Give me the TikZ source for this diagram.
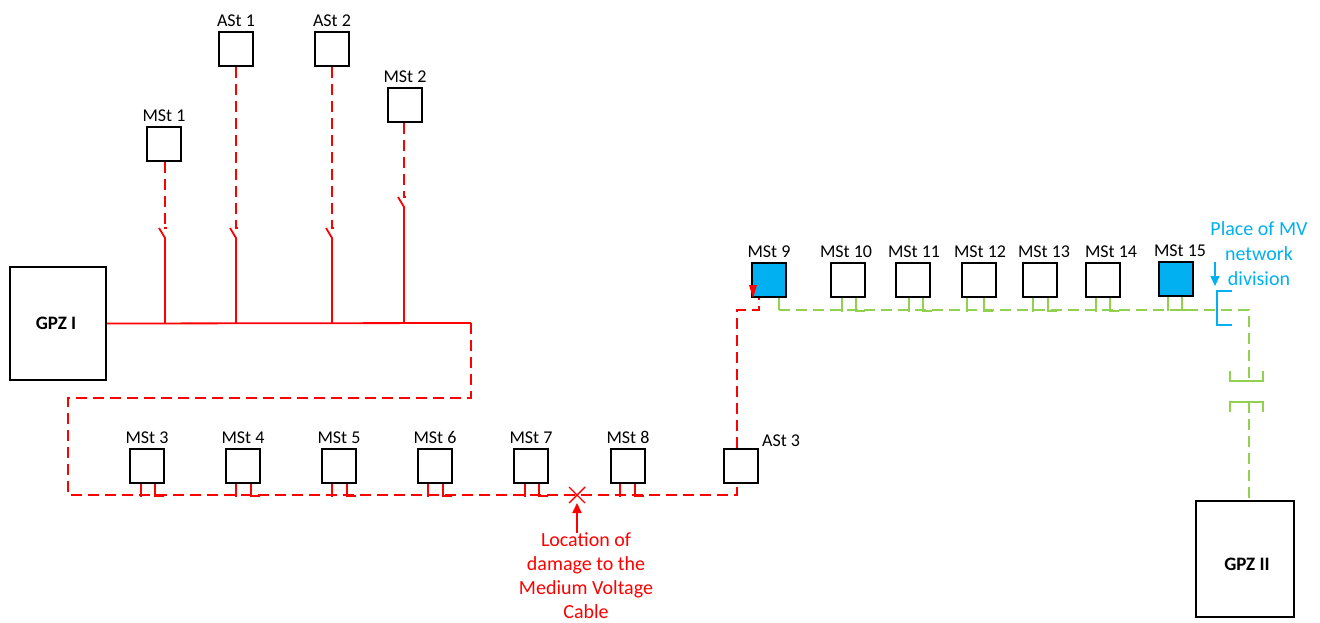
\documentclass[tikz,border=0pt]{standalone}
\usepackage{fontspec}
\setmainfont{Carlito}
\usetikzlibrary{arrows.meta,calc}
\definecolor{cred}{HTML}{FF0000}
\definecolor{cgreen}{HTML}{92D050}
\definecolor{cblue}{HTML}{00B0F0}
\begin{document}
\begin{tikzpicture}[x=1pt,y=-1pt,
  stbox/.style={draw=black, line width=1.6pt, minimum width=34pt, minimum height=34pt, inner sep=0pt},
  gpzbox/.style={draw=black, line width=2pt, inner sep=0pt},
  gpztext/.style={font=\fontsize{19}{23}\selectfont\bfseries, inner sep=0pt},
  lbl/.style={font=\fontsize{18}{22}\selectfont, inner sep=1pt, above=3pt},
  redline/.style={cred, line width=1.8pt},
  reddash/.style={redline, dash pattern=on 11pt off 6pt},
  greenline/.style={cgreen, line width=1.8pt},
  greendash/.style={greenline, dash pattern=on 11pt off 6pt},
  bluetext/.style={cblue, font=\fontsize{20}{25}\selectfont, align=center, inner sep=0pt},
  redtext/.style={cred, font=\fontsize{20}{24}\selectfont, align=center, inner sep=0pt}
]
\useasboundingbox (0,0) rectangle (1320,623);

% GPZ boxes
\node[gpzbox, minimum width=96pt, minimum height=113pt] (g1) at (58,323.5) {};
\node[gpztext] at (56,323) {GPZ I};
\node[gpzbox, minimum width=98pt, minimum height=116pt] (g2) at (1245,559) {};
\node[gpztext] at (1247,564) {GPZ II};

% top feeders
\node[stbox] (m1) at (164,144) {};
\node[lbl] at (m1.north) {MSt 1};
\node[stbox] (a1) at (236,49) {};
\node[lbl] at (a1.north) {ASt 1};
\node[stbox] (a2) at (332,49) {};
\node[lbl] at (a2.north) {ASt 2};
\node[stbox] (m2) at (405,105) {};
\node[lbl] at (m2.north) {MSt 2};

% bus
\coordinate (bend) at (471,323);
\draw[redline] (g1.east) -- (bend);
\foreach \n/\xx/\ys in {m1/165/228, a1/236/228, a2/332/228, m2/404/197} {
  \draw[reddash] (\xx,0 |- \n.south) -- (\xx,\ys);
  \draw[redline] (\xx-1,\ys) -- (\xx+2,\ys);
  \draw[redline] (\xx-6,\ys) -- (\xx,\ys+10) -- (\xx,323);
}

% lower row
\foreach \n/\cx/\t in {m3/147/MSt 3, m4/243/MSt 4, m5/339/MSt 5, m6/435/MSt 6, m7/531/MSt 7, m8/628/MSt 8} {
  \node[stbox] (\n) at (\cx,466) {};
  \node[lbl] at (\n.north) {\t};
}
\node[stbox] (a3) at (741,466) {};
\node[font=\fontsize{18}{22}\selectfont, inner sep=0pt, anchor=west] at (762,441) {ASt 3};

\coordinate (c1) at (471,398);
\coordinate (c2) at (68,398);
\coordinate (c3) at (68,495);
\coordinate (c4) at (737,495);
\draw[reddash] (bend) -- (c1) -- (c2) -- (c3) -- (c4) -- (c4 |- a3.south);
\foreach \n/\a/\b in {m3/-6/8, m4/-7/8, m5/-7/8, m6/-7/8, m7/-6/8, m8/-8/7} {
  \draw[redline] ($(\n.south)+(\a,0)$) -- ++(0,13);
  \draw[redline] ($(\n.south)+(\b,0)$) -- ++(0,12) -- ++(9,0);
}

% damage location
\coordinate (dmg) at (577,495);
\draw[redline, line width=1.4pt] ($(dmg)+(-8,-8)$) -- ($(dmg)+(8,8)$);
\draw[redline, line width=1.4pt] ($(dmg)+(-8,8)$) -- ($(dmg)+(8,-8)$);
\node[redtext] (dtxt) at (586,576) {Location of\\damage to the\\Medium Voltage\\Cable};
\draw[redline, -{Triangle[length=10pt,width=9pt]}] (dmg |- dtxt.north) -- ($(dmg)+(0,8)$);

% upper right row
\foreach \n/\cx/\lx/\t in {m10/848/846/MSt 10, m11/913/914/MSt 11, m12/979/980/MSt 12, m13/1040/1044/MSt 13, m14/1103/1111/MSt 14} {
  \node[stbox] (\n) at (\cx,280) {};
  \node[lbl] at (\lx,0 |- \n.north) {\t};
}
\node[stbox, fill=cblue] (m9) at (769,280) {};
\node[lbl] at (m9.north) {MSt 9};
\node[stbox, fill=cblue] (m15) at (1176,279) {};
\node[lbl] at (1180,0 |- m15.north) {MSt 15};

% red link AS t3 -> MSt 9
\coordinate (r1) at (737,310);
\coordinate (r2) at (759,310);
\draw[reddash] (a3.north -| r1) -- (r1) -- (r2) -- (r2 |- m9.south);
\fill[cred] (749,285) -- (757,285) -- (753,298) -- cycle;

% green line
\coordinate (gs) at (779,310);
\coordinate (gc) at (1249,310);
\coordinate (gt) at (1249,381);
\coordinate (gb) at (1249,402);
\draw[greenline] (gs |- m9.south) -- (gs);
\draw[greendash] (gs) -- (gc) -- (gt);
\foreach \n/\a/\b in {m10/-6/8, m11/-4/10, m12/-12/5, m13/-7/8, m14/-7/7, m15/-8/6} {
  \draw[greenline] ($(\n.south)+(\a,0)$) -- ++(0,14);
  \draw[greenline] ($(\n.south)+(\b,0)$) -- ++(0,13) -- ++(9,0);
}
\draw[greenline] (1230,371) -- (1230,381) -- (1263,381) -- (1263,371);
\draw[greenline] (1230,412) -- (1230,402) -- (1263,402) -- (1263,412);
\draw[greendash] (gb) -- (gb |- g2.north);

% network division
\draw[cblue, line width=2.2pt] (1232,291) -- (1217,291) -- (1217,325) -- (1232,325);
\node[bluetext] (dtext) at (1259,254) {Place of MV\\network\\division};
\draw[cblue, line width=1.6pt, -{Triangle[length=10pt,width=9pt]}] (1215,262) -- (1215,286);
\end{tikzpicture}
\end{document}
